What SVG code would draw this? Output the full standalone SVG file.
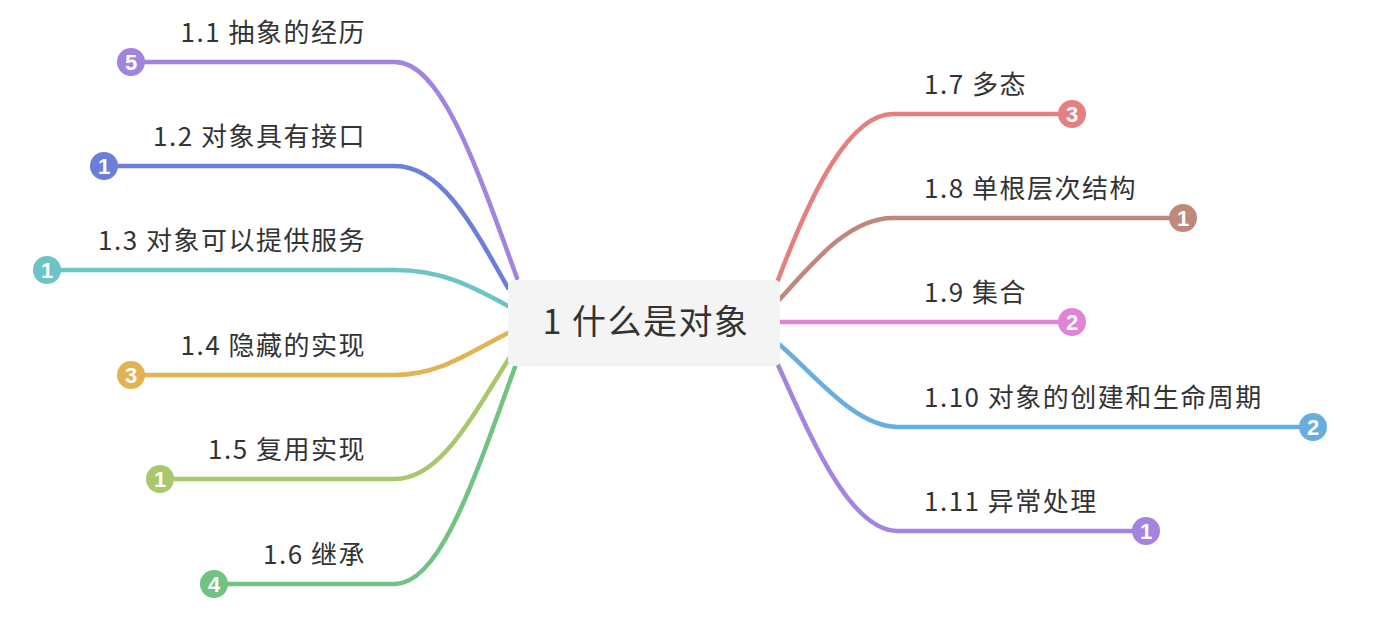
<svg xmlns="http://www.w3.org/2000/svg" width="1376" height="628" viewBox="0 0 1376 628">
<style>
.lbl{font-family:"Noto Sans CJK SC","Noto Sans",sans-serif;font-size:26px;fill:#333;letter-spacing:1.5px}
.l{text-anchor:end}
.r{text-anchor:start}
.root{font-family:"Noto Sans CJK SC","Noto Sans",sans-serif;font-size:34px;fill:#333;text-anchor:middle;letter-spacing:1.5px}
.num{font-family:"Liberation Sans","Noto Sans",sans-serif;font-size:22px;font-weight:bold;fill:#fff;text-anchor:middle}
.ln{fill:none;stroke-width:4.5;stroke-linecap:round}
</style>
<rect width="1376" height="628" fill="#fff"/>
<g id="connectors">
<path class="ln" stroke="#a283e0" d="M131 62 L395 62 C440 62 474 159 517 278"/>
<path class="ln" stroke="#6b7fd8" d="M104 166 L395 166 C440 166 470 220 508 288"/>
<path class="ln" stroke="#6cc4c4" d="M47 270 L395 270 C440 270 470 285 508 306"/>
<path class="ln" stroke="#e2b354" d="M131 375 L395 375 C440 375 470 352 508 333"/>
<path class="ln" stroke="#a9c76c" d="M160 479 L395 479 C440 479 470 420 510 357"/>
<path class="ln" stroke="#72c283" d="M214 584 L395 584 C440 584 474 480 515 367"/>
<path class="ln" stroke="#e4807f" d="M1072 114 L893 114 C850 114 812 190 778 280"/>
<path class="ln" stroke="#c0887a" d="M1183 218 L893 218 C850 218 815 260 780 299"/>
<path class="ln" stroke="#e184d8" d="M1072 322 L780 322"/>
<path class="ln" stroke="#66aee0" d="M1313 427 L898 427 C855 427 815 375 780 345"/>
<path class="ln" stroke="#a484e0" d="M1146 531 L898 531 C850 531 812 440 778 365"/>
</g>
<g id="root">
<rect x="508" y="280" width="272" height="86" rx="5" fill="#f4f4f4"/>
<text class="root" x="646" y="334">1 什么是对象</text>
</g>
<g id="n1-1"><text class="lbl l" x="366" y="42">1.1 抽象的经历</text><circle cx="131" cy="62" r="14" fill="#a283e0"/><text class="num" x="131" y="70">5</text></g>
<g id="n1-2"><text class="lbl l" x="366" y="146">1.2 对象具有接口</text><circle cx="104" cy="166" r="14" fill="#6b7fd8"/><text class="num" x="104" y="174">1</text></g>
<g id="n1-3"><text class="lbl l" x="366" y="250">1.3 对象可以提供服务</text><circle cx="47" cy="270" r="14" fill="#6cc4c4"/><text class="num" x="47" y="278">1</text></g>
<g id="n1-4"><text class="lbl l" x="366" y="355">1.4 隐藏的实现</text><circle cx="131" cy="375" r="14" fill="#e2b354"/><text class="num" x="131" y="383">3</text></g>
<g id="n1-5"><text class="lbl l" x="366" y="459">1.5 复用实现</text><circle cx="160" cy="479" r="14" fill="#a9c76c"/><text class="num" x="160" y="487">1</text></g>
<g id="n1-6"><text class="lbl l" x="366" y="564">1.6 继承</text><circle cx="214" cy="584" r="14" fill="#72c283"/><text class="num" x="214" y="592">4</text></g>
<g id="n1-7"><text class="lbl r" x="924" y="94">1.7 多态</text><circle cx="1072" cy="114" r="14" fill="#e4807f"/><text class="num" x="1072" y="122">3</text></g>
<g id="n1-8"><text class="lbl r" x="924" y="198">1.8 单根层次结构</text><circle cx="1183" cy="218" r="14" fill="#c0887a"/><text class="num" x="1183" y="226">1</text></g>
<g id="n1-9"><text class="lbl r" x="924" y="302">1.9 集合</text><circle cx="1072" cy="322" r="14" fill="#e184d8"/><text class="num" x="1072" y="330">2</text></g>
<g id="n1-10"><text class="lbl r" x="924" y="407">1.10 对象的创建和生命周期</text><circle cx="1313" cy="427" r="14" fill="#66aee0"/><text class="num" x="1313" y="435">2</text></g>
<g id="n1-11"><text class="lbl r" x="924" y="511">1.11 异常处理</text><circle cx="1146" cy="531" r="14" fill="#a484e0"/><text class="num" x="1146" y="539">1</text></g>
</svg>
